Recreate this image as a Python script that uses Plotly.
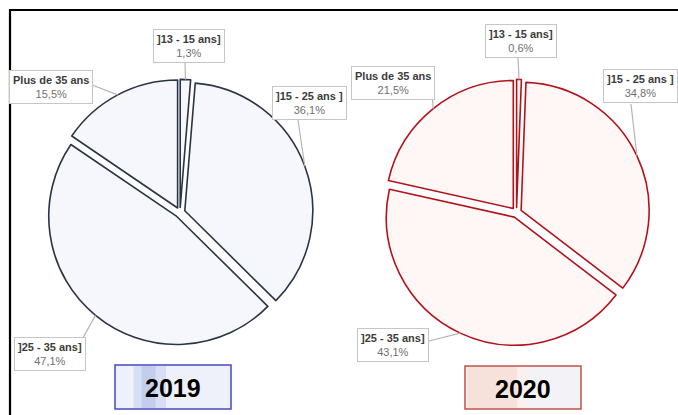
import math
import plotly.graph_objects as go

# ---------------- data ----------------
labels = ["]13 - 15 ans]", "]15 - 25 ans ]", "]25 - 35 ans]", "Plus de 35 ans"]
values_2019 = [1.3, 36.1, 47.1, 15.5]
values_2020 = [0.6, 34.8, 43.1, 21.5]
pct_2019 = ["1,3%", "36,1%", "47,1%", "15,5%"]
pct_2020 = ["0,6%", "34,8%", "43,1%", "21,5%"]
years = ["2019", "2020"]

# ---------------- layout constants ----------------
W, H = 678, 415
R = 128
PULL = 0.04
CENTERS = [(180, 212.5), (516.5, 212.5)]
FONT = "Liberation Sans Narrow, Arial Narrow, Liberation Sans, Arial, sans-serif"

styles = [
    dict(fill="#f5f7fc", line="#2b3446", boxfill="#eef1fa", band="#aebde8", boxline="#4747c2",
         box=(115, 365, 231, 409)),
    dict(fill="#fef7f6", line="#b3121a", boxfill="#f8f1f0", band="#f3cdb9", boxline="#c0504d",
         box=(465, 366, 581, 409)),
]
# label box centres and leader-line anchor points (pixels), order as labels
label_boxes = [
    [(189, 46), (309.5, 102.5), (49.5, 353.5), (50.5, 86.5)],
    [(521, 41), (640, 85.5), (393, 345), (393, 82.5)],
]
anchors = [
    [(185, 62), (298, 120), (80, 343), (87, 83)],
    [(518, 57), (631, 104), (429, 341), (432, 93)],
]

fig = go.Figure()
shapes = []
annotations = []

# outer frame
shapes.append(dict(type="rect", xref="x", yref="y", x0=10, y0=10, x1=W + 40, y1=H + 40,
                   line=dict(color="#000000", width=2.2), fillcolor="rgba(0,0,0,0)", layer="below"))

for k, (vals, pcts) in enumerate([(values_2019, pct_2019), (values_2020, pct_2020)]):
    cx, cy = CENTERS[k]
    st = styles[k]
    half = R * (1 + PULL)
    dom_x = [(cx - half) / W, (cx + half) / W]
    dom_y = [1 - (cy + half) / H, 1 - (cy - half) / H]
    fig.add_trace(go.Pie(
        values=vals, labels=labels, sort=False, direction="clockwise", rotation=0,
        pull=[PULL] * len(vals), textinfo="none", hoverinfo="skip", showlegend=False,
        marker=dict(colors=[st["fill"]] * len(vals), line=dict(color=st["line"], width=1.6)),
        domain=dict(x=dom_x, y=dom_y),
    ))
    # leader lines to the mid-angle of each slice
    tot = sum(vals)
    acc = 0
    for i, v in enumerate(vals):
        mid = (acc + v / 2) / tot * 2 * math.pi
        acc += v
        ox = cx + R * PULL * math.sin(mid)
        oy = cy - R * PULL * math.cos(mid)
        tx = ox + R * math.sin(mid)
        ty = oy - R * math.cos(mid)
        axp, ayp = anchors[k][i]
        shapes.append(dict(type="line", xref="x", yref="y", x0=axp, y0=ayp, x1=tx, y1=ty,
                           line=dict(color="#b5b5b5", width=1.2), layer="above"))
        bx, by = label_boxes[k][i]
        annotations.append(dict(
            xref="x", yref="y", x=bx, y=by, showarrow=False,
            text=f"<b>{labels[i]}</b><br><span style='color:#707070'>{pcts[i]}</span>",
            font=dict(family=FONT, size=11, color="#3c3c3c"),
            bgcolor="#ffffff", bordercolor="#c6c6c6", borderwidth=1, borderpad=3,
            align="center",
        ))
    # year box
    x0, y0, x1, y1 = st["box"]
    shapes.append(dict(type="rect", xref="x", yref="y", x0=x0, y0=y0, x1=x1, y1=y1,
                       fillcolor=st["boxfill"], line=dict(width=0), layer="above"))
    bw = x1 - x0
    if k == 0:
        shapes.append(dict(type="rect", xref="x", yref="y", x0=x0 + 0.16 * bw, y0=y0 + 1, x1=x0 + 0.44 * bw,
                           y1=y1 - 1, fillcolor=st["band"], opacity=0.35, line=dict(width=0), layer="above"))
        shapes.append(dict(type="rect", xref="x", yref="y", x0=x0 + 0.23 * bw, y0=y0 + 1, x1=x0 + 0.35 * bw,
                           y1=y1 - 1, fillcolor=st["band"], opacity=0.5, line=dict(width=0), layer="above"))
    else:
        shapes.append(dict(type="rect", xref="x", yref="y", x0=x0 + 0.02 * bw, y0=y0 + 1, x1=x0 + 0.45 * bw,
                           y1=y1 - 1, fillcolor=st["band"], opacity=0.4, line=dict(width=0), layer="above"))
        shapes.append(dict(type="rect", xref="x", yref="y", x0=x0 + 0.55 * bw, y0=y0 + 1, x1=x1 - 1,
                           y1=y1 - 1, fillcolor="#f0f2f9", opacity=0.8, line=dict(width=0), layer="above"))
    shapes.append(dict(type="rect", xref="x", yref="y", x0=x0, y0=y0, x1=x1, y1=y1,
                       fillcolor="rgba(0,0,0,0)", line=dict(color=st["boxline"], width=1.5), layer="above"))
    annotations.append(dict(xref="x", yref="y", x=(x0 + x1) / 2, y=(y0 + y1) / 2 + 1, showarrow=False,
                            text=f"<b>{years[k]}</b>",
                            font=dict(family=FONT, size=25, color="#000000")))

fig.update_layout(
    width=W, height=H, margin=dict(l=0, r=0, t=0, b=0),
    paper_bgcolor="#ffffff", plot_bgcolor="rgba(0,0,0,0)",
    xaxis=dict(range=[0, W], visible=False, fixedrange=True),
    yaxis=dict(range=[H, 0], visible=False, fixedrange=True),
    shapes=shapes, annotations=annotations,
)

fig.write_html("out.html")
